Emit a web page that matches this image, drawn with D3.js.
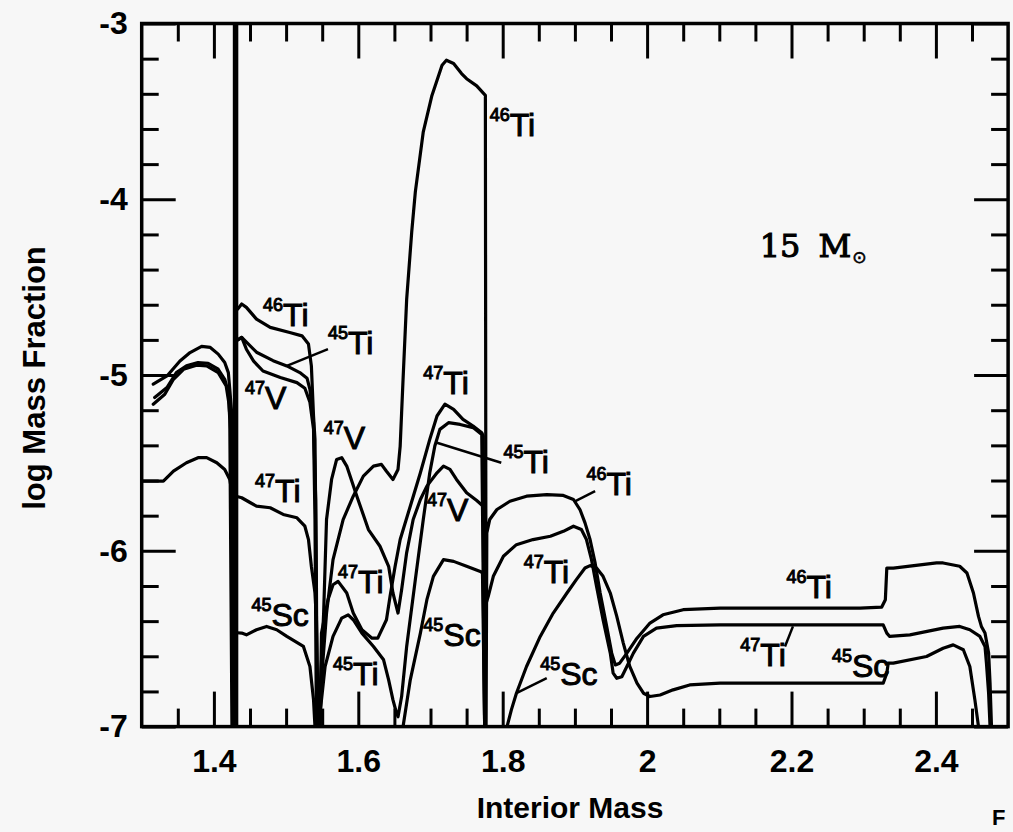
<!DOCTYPE html>
<html>
<head>
<meta charset="utf-8">
<script src="https://cdn.jsdelivr.net/npm/d3@7"></script>
<style>
  html, body { margin: 0; padding: 0; background: #f7f7f7; }
  svg { display: block; }
</style>
</head>
<body>
<svg id="chart" width="1013" height="832"></svg>
<script>
// ---------------- data ----------------
const xMajorTicks = [1.4, 1.6, 1.8, 2.0, 2.2, 2.4];
const xTickLabels = ["1.4", "1.6", "1.8", "2", "2.2", "2.4"];
const yMajorTicks = [-3, -4, -5, -6, -7];
const yTickLabels = ["-3", "-4", "-5", "-6", "-7"];
const xTitle = "Interior Mass";
const yTitle = "log Mass Fraction";
const massCut = [1.430];
const starMass = "15";

// [interior mass, log mass fraction]; null breaks a curve
const ti46 = [
  [1.316,-5.052],[1.335,-5.005],[1.353,-4.920],[1.367,-4.872],[1.383,-4.837],[1.395,-4.843],[1.406,-4.881],
  [1.415,-4.929],[1.420,-4.986],[1.422,-5.081],[1.425,-5.233],[1.427,-7], null,
  [1.433,-4.625],[1.4385,-4.596],[1.445,-4.615],[1.459,-4.682],[1.478,-4.729],[1.505,-4.758],[1.522,-4.777],
  [1.531,-4.824],[1.535,-4.948],[1.538,-5.233],[1.540,-5.366],[1.542,-6.2],[1.543,-7],
  [1.547,-7],[1.549,-6.734],[1.556,-6.354],[1.565,-6.050],[1.579,-5.822],[1.593,-5.689],[1.607,-5.575],
  [1.621,-5.518],[1.632,-5.508],[1.639,-5.547],[1.648,-5.594],[1.655,-5.537],[1.658,-5.404],[1.660,-5.214],
  [1.662,-5.024],[1.667,-4.568],[1.674,-4.186],[1.679,-3.958],[1.690,-3.616],[1.702,-3.409],[1.716,-3.238],
  [1.722,-3.209],[1.732,-3.228],[1.743,-3.285],[1.750,-3.314],[1.764,-3.355],[1.776,-3.409],[1.777,-7],
  [1.778,-5.898],[1.782,-5.822],[1.792,-5.765],[1.810,-5.718],[1.833,-5.689],[1.861,-5.680],[1.884,-5.685],
  [1.898,-5.708],[1.907,-5.765],[1.914,-5.841],[1.921,-5.936],[1.928,-6.069],[1.935,-6.240],[1.944,-6.430],
  [1.951,-6.582],[1.956,-6.649],[1.962,-6.639],[1.972,-6.582],[1.986,-6.497],[2.004,-6.411],[2.022,-6.364],
  [2.050,-6.335],[2.101,-6.326],[2.202,-6.326],[2.295,-6.326],[2.325,-6.320],[2.330,-6.278],[2.332,-6.098],
  [2.341,-6.098],[2.401,-6.069],[2.410,-6.069],[2.433,-6.088],[2.443,-6.126],[2.452,-6.240],[2.459,-6.373],
  [2.463,-6.430],[2.468,-6.468],[2.473,-6.582],[2.475,-6.753],[2.477,-7]
];
const ti45 = [
  [1.318,-5.128],[1.335,-5.071],[1.348,-4.986],[1.362,-4.948],[1.378,-4.929],[1.392,-4.933],[1.406,-4.967],
  [1.415,-5.024],[1.420,-5.100],[1.422,-5.252],[1.425,-7], null,
  [1.433,-4.800],[1.4385,-4.786],[1.459,-4.870],[1.482,-4.918],[1.501,-4.948],[1.519,-4.986],[1.529,-5.018],
  [1.533,-5.081],[1.538,-5.271],[1.541,-5.708],[1.543,-7],
  [1.545,-7],[1.554,-6.658],[1.565,-6.487],[1.577,-6.383],[1.586,-6.364],[1.593,-6.392],[1.605,-6.468],
  [1.621,-6.544],[1.635,-6.620],[1.642,-6.734],[1.648,-6.848],[1.653,-6.924],[1.655,-6.944],[1.660,-6.829],
  [1.667,-6.544],[1.679,-6.164],[1.690,-5.822],[1.699,-5.556],[1.706,-5.404],[1.713,-5.309],[1.725,-5.271],
  [1.741,-5.281],[1.759,-5.299],[1.771,-5.338],[1.775,-7]
];
const v47 = [
  [1.316,-5.166],[1.332,-5.109],[1.344,-5.024],[1.358,-4.967],[1.376,-4.944],[1.390,-4.948],[1.406,-4.986],
  [1.417,-5.062],[1.421,-5.166],[1.424,-5.366],[1.426,-7], null,
  [1.433,-4.800],[1.4385,-4.786],[1.445,-4.853],[1.455,-4.921],[1.468,-4.977],[1.492,-5.014],[1.515,-5.043],
  [1.526,-5.075],[1.533,-5.155],[1.538,-5.309],[1.540,-5.822],[1.542,-7],
  [1.545,-7],[1.552,-6.354],[1.556,-5.822],[1.563,-5.594],[1.570,-5.480],[1.577,-5.470],[1.584,-5.518],
  [1.598,-5.689],[1.614,-5.879],[1.630,-5.974],[1.642,-6.088],[1.648,-6.240],[1.655,-6.354],[1.660,-6.221],
  [1.667,-6.010],[1.676,-5.822],[1.686,-5.708],[1.695,-5.632],[1.709,-5.556],[1.718,-5.518],[1.727,-5.537],
  [1.736,-5.594],[1.750,-5.670],[1.764,-5.714],[1.773,-5.746],[1.775,-7]
];
const ti47 = [
  [1.300,-5.604],[1.330,-5.604],[1.344,-5.547],[1.362,-5.499],[1.378,-5.470],[1.390,-5.470],[1.404,-5.499],
  [1.415,-5.537],[1.422,-5.594],[1.425,-5.668],[1.426,-6.05],[1.428,-7], null,
  [1.432,-5.691],[1.4385,-5.698],[1.450,-5.725],[1.459,-5.746],[1.478,-5.755],[1.496,-5.793],[1.515,-5.812],
  [1.526,-5.860],[1.531,-5.936],[1.535,-6.088],[1.540,-6.238],[1.542,-6.392],[1.544,-6.848],[1.546,-7],
  [1.547,-7],[1.549,-6.468],[1.558,-6.278],[1.565,-6.193],[1.572,-6.174],[1.584,-6.240],[1.593,-6.354],
  [1.605,-6.449],[1.619,-6.497],[1.627,-6.497],[1.639,-6.392],[1.644,-6.259],[1.651,-6.088],[1.658,-5.936],
  [1.672,-5.746],[1.686,-5.556],[1.699,-5.366],[1.709,-5.233],[1.720,-5.166],[1.732,-5.195],[1.745,-5.252],
  [1.759,-5.290],[1.771,-5.328],[1.773,-5.347],[1.775,-6.45],[1.777,-6.30],
  [1.780,-6.259],[1.787,-6.145],[1.801,-6.031],[1.819,-5.965],[1.842,-5.936],[1.866,-5.917],[1.884,-5.889],
  [1.898,-5.860],[1.909,-5.879],[1.916,-5.936],[1.923,-6.050],[1.930,-6.202],[1.939,-6.392],[1.949,-6.582],
  [1.953,-6.696],[1.958,-6.725],[1.965,-6.716],[1.972,-6.658],[1.981,-6.582],[1.995,-6.487],[2.013,-6.440],
  [2.041,-6.426],[2.101,-6.421],[2.202,-6.421],[2.327,-6.421],[2.332,-6.468],[2.336,-6.487],[2.364,-6.478],
  [2.410,-6.440],[2.433,-6.430],[2.447,-6.449],[2.461,-6.487],[2.468,-6.544],[2.470,-6.639],[2.473,-6.810],
  [2.475,-7]
];
const sc45 = [
  [1.432,-6.466],[1.4385,-6.468],[1.445,-6.478],[1.459,-6.449],[1.473,-6.430],[1.487,-6.449],[1.501,-6.487],
  [1.524,-6.544],[1.533,-6.658],[1.538,-6.848],[1.540,-7], null,
  [1.662,-7],[1.672,-6.734],[1.686,-6.468],[1.695,-6.278],[1.704,-6.145],[1.718,-6.050],[1.732,-6.060],
  [1.750,-6.088],[1.769,-6.117],[1.772,-6.126],[1.775,-7], null,
  [1.806,-7],[1.812,-6.905],[1.819,-6.810],[1.833,-6.658],[1.852,-6.487],[1.870,-6.354],[1.889,-6.240],
  [1.902,-6.164],[1.914,-6.098],[1.921,-6.084],[1.930,-6.098],[1.939,-6.145],[1.949,-6.240],[1.958,-6.373],
  [1.967,-6.525],[1.976,-6.658],[1.986,-6.753],[1.995,-6.810],[2.004,-6.829],[2.018,-6.820],[2.036,-6.791],
  [2.059,-6.763],[2.101,-6.753],[2.226,-6.753],[2.327,-6.753],[2.332,-6.696],[2.334,-6.639],[2.341,-6.639],
  [2.387,-6.601],[2.410,-6.554],[2.424,-6.535],[2.438,-6.563],[2.447,-6.658],[2.454,-6.848],[2.459,-7]
];

// isotope labels: [mass number, symbol, interior mass, log mass fraction] (anchor = start, baseline)
const isotopeLabels = [
  ["46","Ti",1.782,-3.639], ["46","Ti",1.468,-4.722], ["45","Ti",1.558,-4.881],
  ["47","V",1.443,-5.195],  ["47","Ti",1.457,-5.725], ["45","Sc",1.452,-6.426],
  ["47","V",1.552,-5.423],  ["47","Ti",1.572,-6.240], ["45","Ti",1.565,-6.763],
  ["47","Ti",1.690,-5.109], ["45","Ti",1.801,-5.556], ["47","V",1.695,-5.832],
  ["45","Sc",1.690,-6.544], ["46","Ti",1.916,-5.680], ["47","Ti",1.829,-6.183],
  ["45","Sc",1.852,-6.763], ["46","Ti",2.193,-6.269], ["47","Ti",2.129,-6.658],
  ["45","Sc",2.256,-6.716]
];
// leader lines from labels to curves
const leaders = [
  [[1.501,-4.948],[1.558,-4.853]],
  [[1.709,-5.385],[1.798,-5.499]],
  [[1.900,-5.718],[1.928,-5.661]],
  [[1.819,-6.810],[1.861,-6.724]],
  [[2.191,-6.544],[2.202,-6.430]]
];
const starLabelAnchor = [2.156, -4.328];

// ---------------- drawing ----------------
const svg = d3.select("#chart");
const FONT = "'Liberation Sans', Arial, Helvetica, sans-serif";

svg.append("rect").attr("width", 1013).attr("height", 832).attr("fill", "#f7f7f7");

const x = d3.scaleLinear().domain([1.3, 2.5]).range([141.7, 1008.1]);
const y = d3.scaleLinear().domain([-7, -3]).range([726.6, 23.5]);

const near = (a, b) => Math.abs(a - b) < 1e-6;
const xMinor = x.ticks(24).filter(t => !xMajorTicks.some(m => near(m, t)) && !near(t, 1.3) && !near(t, 2.5));
const yMinor = y.ticks(20).filter(t => !yMajorTicks.some(m => near(m, t)));

function styleAxis(g) {
  g.select(".domain").remove();
  g.selectAll(".tick line").attr("stroke", "#000").attr("stroke-width", 3);
  g.selectAll(".tick text").attr("fill", "#000").attr("font-family", FONT)
    .attr("font-size", 32).attr("font-weight", "bold");
}

const bottomY = y(-7), topY = y(-3), leftX = x(1.3), rightX = x(2.5);

// bottom
svg.append("g").attr("transform", `translate(0,${bottomY})`)
  .call(d3.axisBottom(x).tickValues(xMinor).tickSize(-18).tickFormat("")).call(styleAxis);
svg.append("g").attr("transform", `translate(0,${bottomY})`)
  .call(d3.axisBottom(x).tickValues(xMajorTicks).tickSize(-35).tickPadding(23)
    .tickFormat((d, i) => xTickLabels[i])).call(styleAxis);
// top
svg.append("g").attr("transform", `translate(0,${topY})`)
  .call(d3.axisTop(x).tickValues(xMinor).tickSize(-18).tickFormat("")).call(styleAxis);
svg.append("g").attr("transform", `translate(0,${topY})`)
  .call(d3.axisTop(x).tickValues(xMajorTicks).tickSize(-35).tickFormat("")).call(styleAxis);
// left
svg.append("g").attr("transform", `translate(${leftX},0)`)
  .call(d3.axisLeft(y).tickValues(yMinor).tickSize(-17).tickFormat("")).call(styleAxis);
svg.append("g").attr("transform", `translate(${leftX},0)`)
  .call(d3.axisLeft(y).tickValues(yMajorTicks).tickSize(-34).tickPadding(14)
    .tickFormat((d, i) => yTickLabels[i])).call(styleAxis);
// right
svg.append("g").attr("transform", `translate(${rightX},0)`)
  .call(d3.axisRight(y).tickValues(yMinor).tickSize(-17).tickFormat("")).call(styleAxis);
svg.append("g").attr("transform", `translate(${rightX},0)`)
  .call(d3.axisRight(y).tickValues(yMajorTicks).tickSize(-34).tickFormat("")).call(styleAxis);

// clip
svg.append("clipPath").attr("id", "plotClip").append("rect")
  .attr("x", leftX).attr("y", topY).attr("width", rightX - leftX).attr("height", bottomY - topY);

const plot = svg.append("g").attr("clip-path", "url(#plotClip)");

// mass cut (thick vertical line)
plot.selectAll("line.cut").data(massCut).join("line")
  .attr("class", "cut")
  .attr("x1", d => x(d)).attr("x2", d => x(d))
  .attr("y1", y(-7)).attr("y2", y(-3))
  .attr("stroke", "#000").attr("stroke-width", 5.5);

const series = [
  { name: "46Ti", values: ti46 },
  { name: "45Ti", values: ti45 },
  { name: "47V", values: v47 },
  { name: "47Ti", values: ti47 },
  { name: "45Sc", values: sc45 }
];

const line = d3.line()
  .defined(d => d !== null)
  .x(d => x(d[0])).y(d => y(d[1]))
  .curve(d3.curveLinear);

plot.selectAll("path.curve").data(series).join("path")
  .attr("class", "curve")
  .attr("d", d => line(d.values))
  .attr("fill", "none").attr("stroke", "#000")
  .attr("stroke-width", 3.2).attr("stroke-linejoin", "round").attr("stroke-linecap", "round");

// leaders
svg.selectAll("path.leader").data(leaders).join("path")
  .attr("class", "leader")
  .attr("d", d => d3.line().x(p => x(p[0])).y(p => y(p[1]))(d))
  .attr("stroke", "#000").attr("stroke-width", 2.5).attr("fill", "none");

// frame
svg.append("rect").attr("x", leftX).attr("y", topY)
  .attr("width", rightX - leftX).attr("height", bottomY - topY)
  .attr("fill", "none").attr("stroke", "#000").attr("stroke-width", 3.5);

// isotope labels
const lab = svg.selectAll("text.iso").data(isotopeLabels).join("text")
  .attr("class", "iso")
  .attr("x", d => x(d[2])).attr("y", d => y(d[3]))
  .attr("font-family", FONT).attr("fill", "#000")
  .attr("stroke", "#000").attr("stroke-width", 1);
lab.append("tspan").attr("font-size", 18).attr("dy", -15).text(d => d[0]);
lab.append("tspan").attr("font-size", 32).attr("dy", 15).text(d => d[1]);

// star mass label
const star = svg.append("text")
  .attr("x", x(starLabelAnchor[0])).attr("y", y(starLabelAnchor[1]))
  .attr("font-family", "'DejaVu Serif', 'Liberation Serif', serif")
  .attr("font-size", 32).attr("fill", "#000").attr("stroke", "#000").attr("stroke-width", 1.1);
star.append("tspan").text(starMass);
star.append("tspan").attr("dx", 18).text("M");
star.append("tspan").attr("font-family", "'DejaVu Sans', sans-serif").attr("font-size", 17)
  .attr("dx", 1).attr("dy", 6).attr("stroke-width", 0.6).text("\u2299");

// axis titles
svg.append("text").attr("x", 570).attr("y", 818)
  .attr("text-anchor", "middle").attr("font-family", FONT)
  .attr("font-size", 30).attr("font-weight", "bold").attr("fill", "#000")
  .text(xTitle);
svg.append("text")
  .attr("transform", "translate(45,378) rotate(-90)")
  .attr("text-anchor", "middle").attr("font-family", FONT)
  .attr("font-size", 31).attr("font-weight", "bold").attr("fill", "#000")
  .text(yTitle);

// figure caption fragment at bottom right
svg.append("text").attr("x", 992).attr("y", 825)
  .attr("font-family", FONT).attr("font-size", 22).attr("font-weight", "bold").attr("fill", "#000")
  .text("F");
</script>
</body>
</html>
